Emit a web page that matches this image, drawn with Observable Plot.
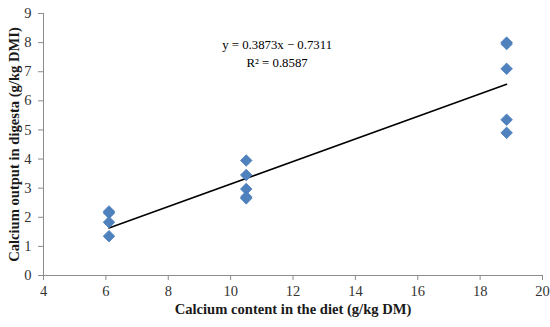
<!DOCTYPE html>
<html>
<head>
<meta charset="utf-8">
<script src="https://cdn.jsdelivr.net/npm/d3@7"></script>
<script src="https://cdn.jsdelivr.net/npm/@observablehq/plot@0.6"></script>
<style>
  body { margin: 0; background: #fff; }
  #chart svg { display: block; }
</style>
</head>
<body>
<div id="chart"></div>
<script>
// Data
const dietCa = [6.1, 6.1, 6.1, 6.1, 10.5, 10.5, 10.5, 10.5, 10.5, 18.85, 18.85, 18.85, 18.85, 18.85];
const outputCa = [2.2, 2.15, 1.83, 1.35, 3.95, 3.45, 2.97, 2.7, 2.65, 8.0, 7.95, 7.1, 5.35, 4.9];
const slope = 0.3873;
const intercept = -0.7311;
const rSquared = 0.8587;
const xTicks = [4, 6, 8, 10, 12, 14, 16, 18, 20];
const yTicks = [0, 1, 2, 3, 4, 5, 6, 7, 8, 9];
const xLabel = "Calcium content in the diet (g/kg DM)";
const yLabel = "Calcium output in digesta (g/kg DMI)";
const eqLines = ["y = 0.3873x − 0.7311", "R² = 0.8587"];

const points = dietCa.map((x, i) => ({x, y: outputCa[i]}));
const xMin = d3.min(dietCa), xMax = d3.max(dietCa);
const trend = [xMin, xMax].map(x => ({x, y: slope * x + intercept}));
const eqPos = [{x: 11.49, y: 7.91, t: eqLines[0]}, {x: 11.49, y: 7.30, t: eqLines[1]}];

const font = "'Liberation Serif', 'DejaVu Serif', serif";
const axisColor = "#8c8c8c";

const chart = Plot.plot({
  width: 550,
  height: 327,
  marginLeft: 43,
  marginRight: 8,
  marginTop: 13,
  marginBottom: 52,
  style: {fontFamily: font, fontSize: "14px", color: "#333", background: "#fff"},
  x: {domain: [4, 20], ticks: xTicks, label: null},
  y: {domain: [0, 9], ticks: yTicks, label: null},
  marks: [
    Plot.ruleY([0], {stroke: axisColor, strokeWidth: 1}),
    Plot.ruleX([4], {stroke: axisColor, strokeWidth: 1}),
    Plot.axisX({ticks: xTicks, tickSize: 5, tickPadding: 5, stroke: axisColor, color: "#333", fontSize: 14.5, label: null}),
    Plot.axisY({ticks: yTicks, tickSize: 5, tickPadding: 7, stroke: axisColor, color: "#333", fontSize: 14.5, label: null}),
    Plot.line(trend, {x: "x", y: "y", stroke: "#000", strokeWidth: 1.5}),
    Plot.dot(points, {x: "x", y: "y", symbol: "diamond2", r: 5.2, fill: "#4F81BD", stroke: "#4A7EBB", strokeWidth: 0.8}),
    Plot.text(eqPos, {x: "x", y: "y", text: "t", fontSize: 12.8, fill: "#000"}),
    Plot.text([xLabel], {frameAnchor: "bottom", dy: 38, fontSize: 14.6, fontWeight: "bold", fill: "#1a1a1a"}),
    Plot.text([yLabel], {frameAnchor: "left", textAnchor: "middle", dx: -29, rotate: -90, fontSize: 14.6, fontWeight: "bold", fill: "#1a1a1a"})
  ]
});
document.getElementById("chart").append(chart);
</script>
</body>
</html>
